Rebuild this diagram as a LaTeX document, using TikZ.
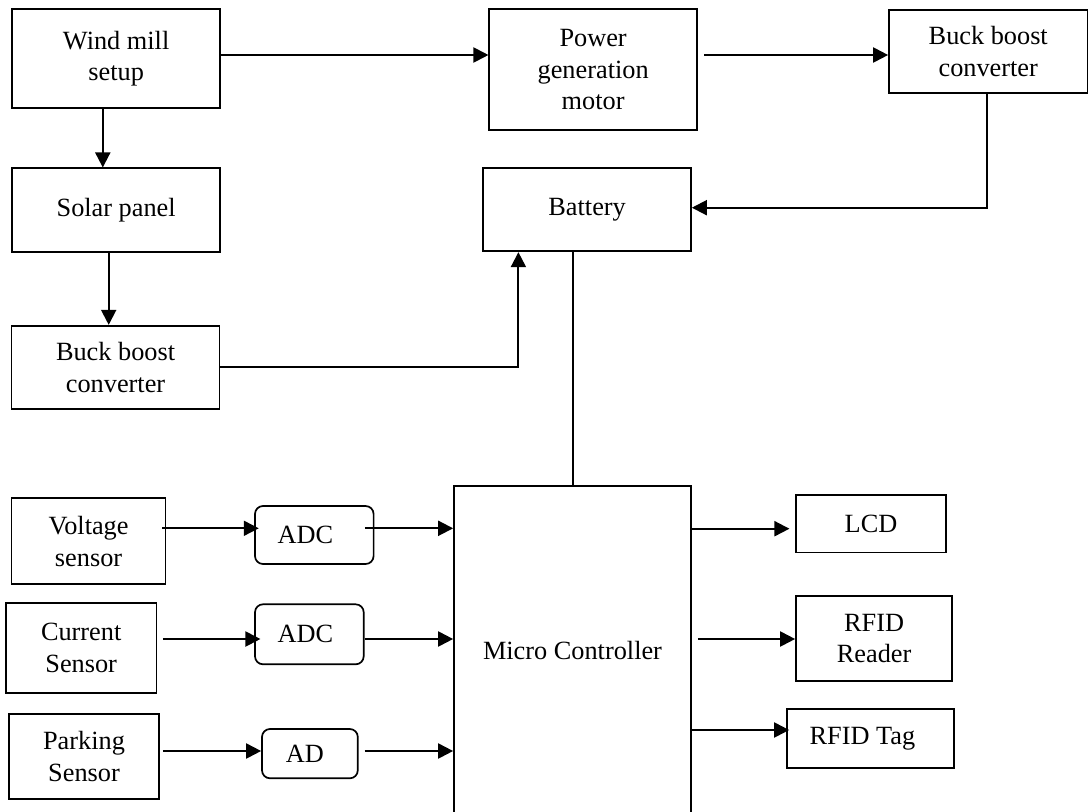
\documentclass[tikz,border=0pt]{standalone}
\usepackage{fontspec}
\setmainfont{Liberation Serif}
\usetikzlibrary{arrows.meta}
\begin{document}
\begin{tikzpicture}[x=1pt,y=-1pt,
  box/.style={draw, line width=1.7pt, inner sep=0pt, align=center,
    font=\fontsize{26.3}{31.5}\selectfont},
  rbox/.style={box, rounded corners=8pt},
  arr/.style={line width=2pt, -{Triangle[length=15pt,width=15pt]}},
  ln/.style={line width=2pt}]
\useasboundingbox (0,0) rectangle (1089,811);
% nodes
\node[box, minimum width=207.7pt, minimum height=98.4pt] (wind) at (116.15,58.5) {Wind mill\\setup};
\node[box, minimum width=207.7pt, minimum height=120.7pt] (power) at (593.15,69.65) {Power\\generation\\motor};
\node[box, minimum width=198.5pt, minimum height=82.7pt] (buckR) at (988.25,51.35) {Buck boost\\converter};
\node[box, minimum width=207.7pt, minimum height=83.4pt] (solar) at (116.15,210) {Solar panel};
\node[box, minimum width=207.7pt, minimum height=83pt] (battery) at (587.15,209.8) {Battery};
\node[box, minimum width=207.9pt, minimum height=83.6pt] (buckL) at (115.55,367.5) {Buck boost\\converter};
\node[box, minimum width=237pt, minimum height=329pt] (micro) at (572.5,650.5) {Micro Controller};
\node[box, minimum width=154pt, minimum height=86pt] (volt) at (88.6,541.3) {Voltage\\sensor};
\node[rbox, minimum width=118.6pt, minimum height=58pt] (adc1) at (314.3,535) {ADC\hspace*{18pt}};
\node[box, minimum width=150.4pt, minimum height=90.6pt] (curr) at (81.2,648) {Current\\Sensor};
\node[rbox, minimum width=108.7pt, minimum height=60pt] (adc2) at (309.35,634.3) {ADC\hspace*{8pt}};
\node[box, minimum width=150.4pt, minimum height=85pt] (park) at (84,756.5) {Parking\\Sensor};
\node[rbox, minimum width=95.8pt, minimum height=49.3pt] (ad) at (309.9,753.65) {AD\hspace*{10pt}};
\node[box, minimum width=150pt, minimum height=57.2pt] (lcd) at (871,523.9) {LCD};
\node[box, minimum width=156.3pt, minimum height=85.6pt] (reader) at (874.15,638.5) {RFID\\Reader};
\node[box, minimum width=167.3pt, minimum height=59pt] (tag) at (870.35,738.5) {RFID Tag\hspace*{16pt}};
% connectors
\draw[arr] (wind.east |- 0,55) -- (power.west |- 0,55);
\draw[arr] ([xshift=6.5pt]power.east |- 0,55) -- (buckR.west |- 0,55);
\draw[arr] (102.8,0 |- wind.south) -- (102.8,0 |- solar.north);
\draw[arr] (108.7,0 |- solar.south) -- (108.7,0 |- buckL.north);
\draw[arr] (buckL.east |- 0,366.7) -| (518.4,0 |- battery.south);
\draw[arr] (986.8,0 |- buckR.south) |- (battery.east |- 0,207.7);
\draw[ln] (micro.north |- battery.south) -- (micro.north);
\draw[arr] (162,0 |- 0,528.3) -- ([xshift=4.6pt]adc1.west |- 0,528.3);
\draw[arr] ([xshift=-9.6pt]adc1.east |- 0,528.3) -- (micro.west |- 0,528.3);
\draw[arr] ([xshift=5.6pt]curr.east |- 0,639) -- ([xshift=6.3pt]adc2.west |- 0,639);
\draw[arr] (adc2.east |- 0,639) -- (micro.west |- 0,639);
\draw[arr] ([xshift=2.8pt]park.east |- 0,751) -- (ad.west |- 0,751);
\draw[arr] ([xshift=5.9pt]ad.east |- 0,751) -- (micro.west |- 0,751);
\draw[arr] (micro.east |- 0,528.7) -- ([xshift=-5.7pt]lcd.west |- 0,528.7);
\draw[arr] ([xshift=6pt]micro.east |- 0,639) -- (reader.west |- 0,639);
\draw[arr] (micro.east |- 0,730) -- ([xshift=3.3pt]tag.west |- 0,730);
\end{tikzpicture}
\end{document}
